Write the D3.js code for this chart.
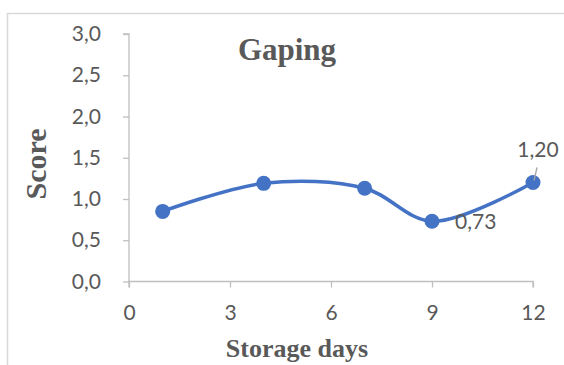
<!DOCTYPE html>
<html>
<head>
<meta charset="utf-8">
<script src="https://cdn.jsdelivr.net/npm/d3@7"></script>
<style>
  html, body { margin: 0; padding: 0; background: #fff; }
  svg { display: block; }
</style>
</head>
<body>
<svg id="chart" width="564" height="365"></svg>
<script>
// Gaping score over storage days
const storageDays = [1, 4, 7, 9, 12];
const gapingScore = [0.85, 1.19, 1.13, 0.73, 1.20];
const xTicks = [0, 3, 6, 9, 12];
const yTicks = [0, 0.5, 1.0, 1.5, 2.0, 2.5, 3.0];
const labelledDays = [9, 12];

const W = 564, H = 365;
const svg = d3.select("#chart");
const fmt = v => d3.format(".1f")(v).replace(".", ",");
const fmt2 = v => d3.format(".2f")(v).replace(".", ",");

const axisColor = "#bfbfbf";
const textColor = "#595959";
const lineColor = "#4472c4";
const tickFont = "Lato, 'Open Sans', sans-serif";
const tickSize = "21px";
const titleFont = "'Liberation Serif', 'Times New Roman', serif";

// chart frame (left and top edges)
svg.append("path")
  .attr("d", `M7.5,${H} V13.5 H${W}`)
  .attr("fill", "none")
  .attr("stroke", "#d9d9d9")
  .attr("stroke-width", 1.5);

const x = d3.scaleLinear().domain([0, 12]).range([129, 533]);
const y = d3.scaleLinear().domain([0, 3]).range([281.5, 34]);

// y axis
const yAxis = svg.append("g")
  .attr("transform", `translate(${x(0)},0)`)
  .call(d3.axisLeft(y).tickValues(yTicks).tickFormat(fmt).tickSize(6).tickPadding(22));
yAxis.select(".domain").attr("stroke", axisColor).attr("stroke-width", 1.3)
  .attr("d", `M-6,${y(3)}H0V${y(0)}`);
yAxis.selectAll(".tick line").attr("stroke", axisColor).attr("stroke-width", 1.3);
yAxis.selectAll(".tick text")
  .attr("fill", textColor).style("font-family", tickFont).style("font-size", tickSize);

// x axis
const xAxis = svg.append("g")
  .attr("transform", `translate(0,${y(0)})`)
  .call(d3.axisBottom(x).tickValues(xTicks).tickFormat(d3.format("d")).tickSize(6).tickPadding(18));
xAxis.select(".domain").attr("stroke", axisColor).attr("stroke-width", 1.3)
  .attr("d", `M${x(0)},6V0H${x(12)}V6`);
xAxis.selectAll(".tick line").attr("stroke", axisColor).attr("stroke-width", 1.3);
xAxis.selectAll(".tick text")
  .attr("fill", textColor).style("font-family", tickFont).style("font-size", tickSize);

// smoothed series line
const data = storageDays.map((d, i) => ({ day: d, score: gapingScore[i] }));
const line = d3.line()
  .x(d => x(d.day))
  .y(d => y(d.score))
  .curve(d3.curveCatmullRom.alpha(0.5));

svg.append("path")
  .datum(data)
  .attr("d", line)
  .attr("fill", "none")
  .attr("stroke", lineColor)
  .attr("stroke-width", 3.5)
  .attr("stroke-linecap", "round");

svg.append("g").selectAll("circle")
  .data(data)
  .join("circle")
  .attr("cx", d => x(d.day))
  .attr("cy", d => y(d.score))
  .attr("r", 7.5)
  .attr("fill", lineColor);

// data labels
const lab = data.filter(d => labelledDays.includes(d.day));
const low = lab[0], last = lab[1];
svg.append("text")
  .attr("x", x(low.day) + 23)
  .attr("y", y(low.score) + 8)
  .attr("fill", textColor)
  .style("font-family", tickFont).style("font-size", tickSize)
  .text(fmt2(low.score));

svg.append("line")
  .attr("x1", x(last.day) + 1).attr("y1", y(last.score) - 2)
  .attr("x2", x(last.day) + 4).attr("y2", y(last.score) - 15)
  .attr("stroke", "#a6a6a6").attr("stroke-width", 1.3);
svg.append("text")
  .attr("x", x(last.day) + 5)
  .attr("y", y(last.score) - 26)
  .attr("text-anchor", "middle")
  .attr("fill", textColor)
  .style("font-family", tickFont).style("font-size", tickSize)
  .text(fmt2(last.score));

// titles
svg.append("text")
  .attr("x", 287).attr("y", 60)
  .attr("text-anchor", "middle")
  .attr("fill", textColor)
  .style("font-family", titleFont).style("font-weight", "bold").style("font-size", "31px")
  .text("Gaping");

svg.append("text")
  .attr("x", 297).attr("y", 357)
  .attr("text-anchor", "middle")
  .attr("fill", textColor)
  .style("font-family", titleFont).style("font-weight", "bold").style("font-size", "26px")
  .text("Storage days");

svg.append("text")
  .attr("transform", `translate(46,164) rotate(-90)`)
  .attr("text-anchor", "middle")
  .attr("fill", textColor)
  .style("font-family", titleFont).style("font-weight", "bold").style("font-size", "30px")
  .text("Score");
</script>
</body>
</html>
